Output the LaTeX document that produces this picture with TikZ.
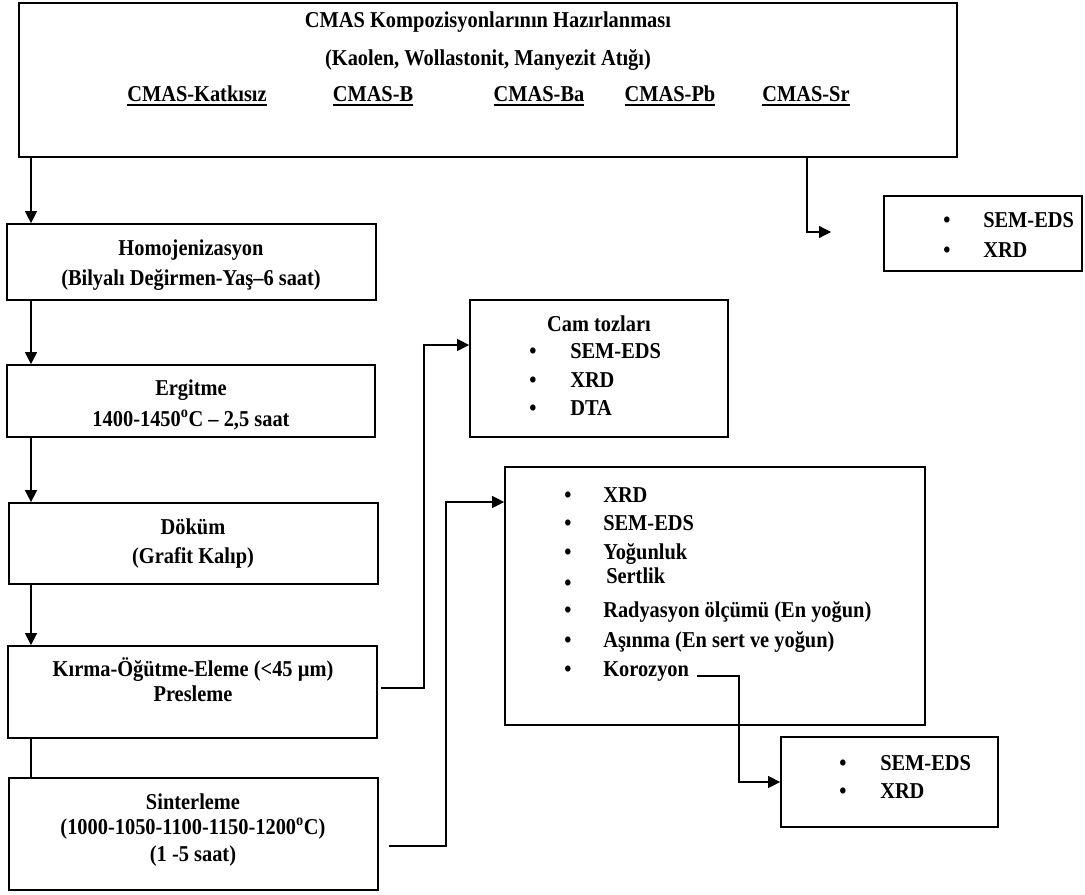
\documentclass[tikz,border=0pt]{standalone}
\usepackage{fontspec}
\setmainfont{Liberation Serif}[FakeStretch=0.9]
\usetikzlibrary{arrows.meta,fit,calc}
\newcommand{\thul}[1]{\begingroup\setbox0\hbox{#1}\rlap{\rule[-3pt]{\wd0}{1.3pt}}\box0\endgroup}
\begin{document}
\begin{tikzpicture}[x=0.75pt,y=-0.75pt,
  box/.style={draw,line width=1.3pt,inner sep=0pt},
  tx/.style={font=\fontsize{17}{20}\bfseries\selectfont,inner sep=0pt,anchor=base},
  lt/.style={tx,anchor=base west},
  arr/.style={line width=1pt,-{Triangle[length=9pt,width=9pt]}},
  ln/.style={line width=1pt}]
\useasboundingbox (0,0) rectangle (1085,895);

% boxes
\node[box,fit={(19,3) (957,157)}] (top) {};
\node[box,fit={(7,224) (376,300)}] (homo) {};
\node[box,fit={(7,365) (375,437)}] (ergi) {};
\node[box,fit={(9,503) (378,584)}] (dokum) {};
\node[box,fit={(8,646) (377,738)}] (kirma) {};
\node[box,fit={(9,778) (378,890)}] (sint) {};
\node[box,fit={(884,196) (1082,271)}] (sem1) {};
\node[box,fit={(470,300) (728,437)}] (cam) {};
\node[box,fit={(505,467) (925,725)}] (big) {};
\node[box,fit={(781,737) (998,827)}] (small) {};

% top box texts
\node[tx] (t1) at (488,28) {CMAS Kompozisyonlarının Hazırlanması};
\node[tx] (t2) at (488,66) {(Kaolen, Wollastonit, Manyezit Atığı)};
\node[tx] (m1) at (197,102) {\thul{CMAS-Katkısız}};
\node[tx] (m2) at (373,102) {\thul{CMAS-B}};
\node[tx] (m3) at (539,102) {\thul{CMAS-Ba}};
\node[tx] (m4) at (670,102) {\thul{CMAS-Pb}};
\node[tx] (m5) at (806,102) {\thul{CMAS-Sr}};

% left column texts
\node[tx] (h1) at (191,255) {Homojenizasyon};
\node[tx] (h2) at (191,285) {(Bilyalı Değirmen-Yaş–6 saat)};
\node[tx] (e1) at (191,395) {Ergitme};
\node[tx] (e2) at (191,426) {1400-1450\textsuperscript{o}C – 2,5 saat};
\node[tx] (d1) at (193,534) {Döküm};
\node[tx] (d2) at (193,563) {(Grafit Kalıp)};
\node[tx] (k1) at (193,676) {Kırma-Öğütme-Eleme (<45 µm)};
\node[tx] (k2) at (193,701) {Presleme};
\node[tx] (s1) at (193,809) {Sinterleme};
\node[tx] (s2) at (193,834) {(1000-1050-1100-1150-1200\textsuperscript{o}C)};
\node[tx] (s3) at (193,861) {(1 -5 saat)};

% top right box
\node[tx] (r1b) at (947,228) {•};
\node[lt] (r1t) at (983,228) {SEM-EDS};
\node[tx] (r2b) at (947,257) {•};
\node[lt] (r2t) at (983,257) {XRD};

% cam tozlari box
\node[tx] (c0) at (599,331) {Cam tozları};
\node[tx] (c1b) at (533,358) {•};
\node[lt] (c1t) at (570,358) {SEM-EDS};
\node[tx] (c2b) at (533,387) {•};
\node[lt] (c2t) at (570,387) {XRD};
\node[tx] (c3b) at (533,415) {•};
\node[lt] (c3t) at (570,415) {DTA};

% big box
\node[tx] (g1b) at (568,502) {•};
\node[lt] (g1t) at (603,502) {XRD};
\node[tx] (g2b) at (568,530) {•};
\node[lt] (g2t) at (603,530) {SEM-EDS};
\node[tx] (g3b) at (568,559) {•};
\node[lt] (g3t) at (603,559) {Yoğunluk};
\node[tx] (g4b) at (568,590) {•};
\node[lt] (g4t) at (606,583) {Sertlik};
\node[tx] (g5b) at (568,617) {•};
\node[lt] (g5t) at (603,617) {Radyasyon ölçümü (En yoğun)};
\node[tx] (g6b) at (568,647) {•};
\node[lt] (g6t) at (603,647) {Aşınma (En sert ve yoğun)};
\node[tx] (g7b) at (568,676) {•};
\node[lt] (koro) at (603,676) {Korozyon};

% small box
\node[tx] (p1b) at (843,770) {•};
\node[lt] (p1t) at (880,770) {SEM-EDS};
\node[tx] (p2b) at (843,798) {•};
\node[lt] (p2t) at (880,798) {XRD};

% connectors
\coordinate (lx) at (31,0);
\draw[arr] (top.south -| lx) -- (homo.north -| lx);
\draw[arr] (homo.south -| lx) -- (ergi.north -| lx);
\draw[arr] (ergi.south -| lx) -- (dokum.north -| lx);
\draw[arr] (dokum.south -| lx) -- (kirma.north -| lx);
\draw[ln] (kirma.south -| lx) -- (sint.north -| lx);

\coordinate (tx) at (807,0);
\coordinate (te) at (831,232);
\draw[arr] (top.south -| tx) |- (te);

\coordinate (ky) at (0,688);
\coordinate (b1) at (424,345);
\draw[arr] ($(kirma.east |- ky)+(3,0)$) -| (b1) -- (cam.west |- b1);

\coordinate (sy) at (0,846);
\coordinate (b2) at (446,502);
\draw[arr] ($(sint.east |- sy)+(10,0)$) -| (b2) -- (big.west |- b2);

\coordinate (b3) at (739,782);
\draw[arr] ($(koro.base east)+(8,0)$) -| (b3) -- (small.west |- b3);
\end{tikzpicture}
\end{document}
